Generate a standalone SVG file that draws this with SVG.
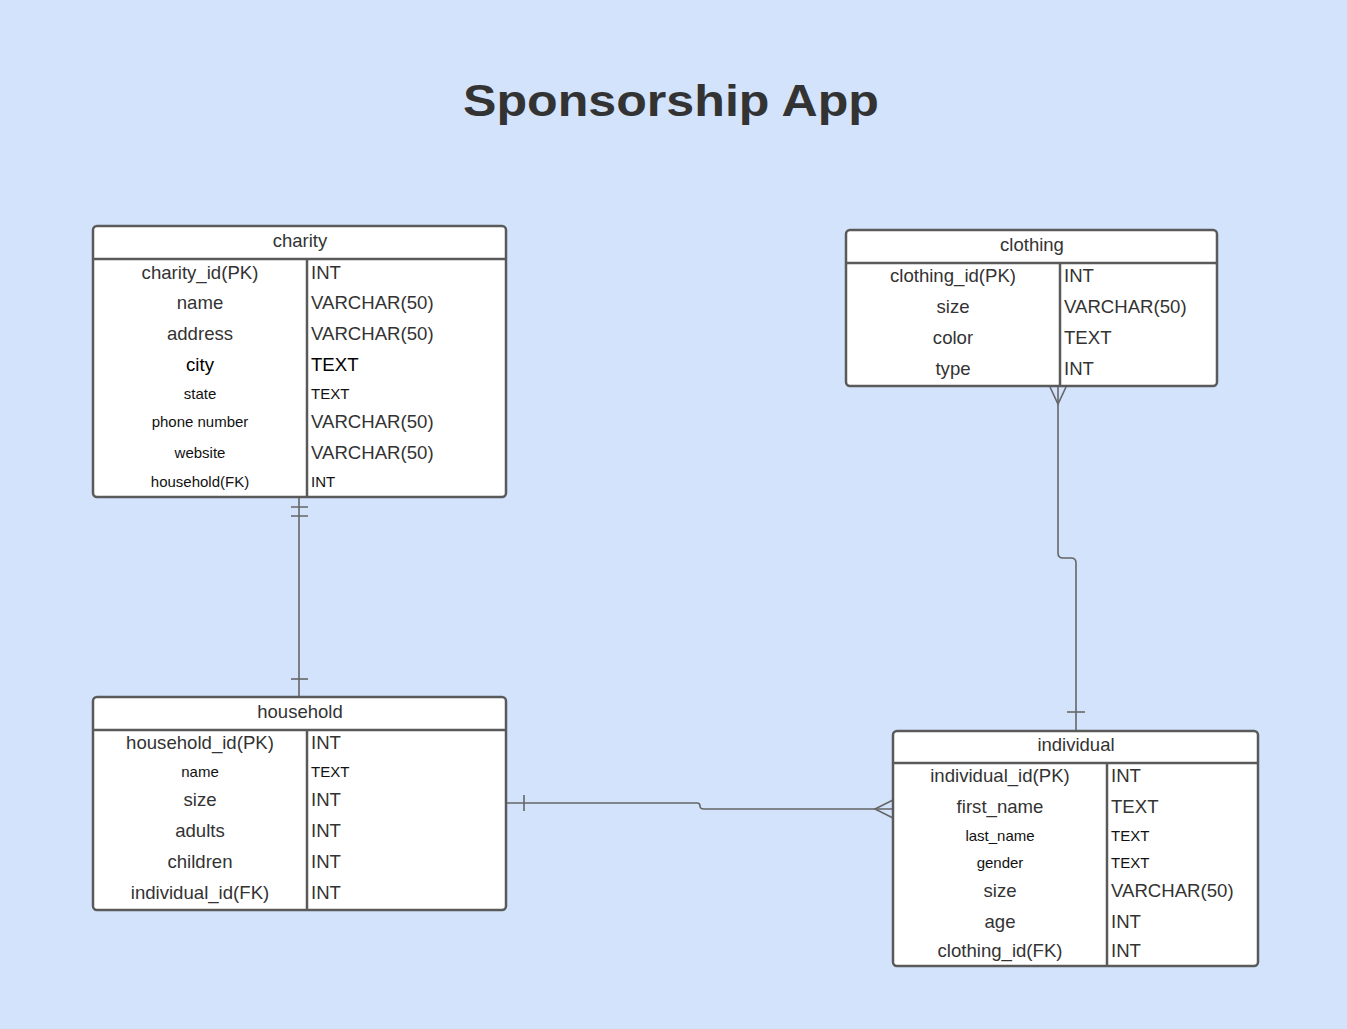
<svg xmlns="http://www.w3.org/2000/svg" width="1347" height="1029" viewBox="0 0 1347 1029">
<style>
  .bg { fill: #d3e3fc; }
  .box { fill: #ffffff; stroke: #5a5a5a; stroke-width: 2.5; }
  .div { stroke: #5a5a5a; stroke-width: 2.5; fill: none; }
  .hdr { font-family: "Liberation Sans", Arial, sans-serif; font-size: 18.5px; fill: #333333; text-anchor: middle; }
  .k { font-family: "Liberation Sans", Arial, sans-serif; font-size: 18.6px; fill: #333333; text-anchor: middle; }
  .v { font-family: "Liberation Sans", Arial, sans-serif; font-size: 18.6px; fill: #333333; }
  .ks { font-family: "Liberation Sans", Arial, sans-serif; font-size: 15px; fill: #111111; text-anchor: middle; }
  .vs { font-family: "Liberation Sans", Arial, sans-serif; font-size: 15px; fill: #111111; }
  .blk { fill: #000000; }
  .conn { stroke: #666666; stroke-width: 1.6; fill: none; }
  .title { font-family: "Liberation Sans", Arial, sans-serif; font-size: 44px; font-weight: bold; fill: #333333; text-anchor: middle; }
</style>
<rect class="bg" x="0" y="0" width="1347" height="1029"/>
<text class="title" x="671" y="116" textLength="416" lengthAdjust="spacingAndGlyphs">Sponsorship App</text>

<g id="connectors">
  <!-- charity - household -->
  <path class="conn" d="M299 497 V697"/>
  <path class="conn" d="M291 507 H308 M291 516 H308"/>
  <path class="conn" d="M291 679 H308"/>
  <!-- clothing - individual -->
  <path class="conn" d="M1058 387 V553 Q1058 558 1063 558 H1071 Q1076 558 1076 563 V731"/>
  <path class="conn" d="M1050 387 L1058 404 L1066 387"/>
  <path class="conn" d="M1067 712 H1085"/>
  <!-- household - individual -->
  <path class="conn" d="M507 803 H697 Q700 803 700 806 Q700 809 704 809 H893"/>
  <path class="conn" d="M524 795 V811"/>
  <path class="conn" d="M893 800 L875 809 L893 818"/>
</g>

<g id="charity">
  <rect class="box" x="93" y="226" width="413" height="271" rx="4"/>
  <path class="div" d="M93 259 H506 M307 259 V497"/>
  <text class="hdr" x="300" y="247">charity</text>
  <text class="k" x="200" y="279">charity_id(PK)</text><text class="v" x="311" y="279">INT</text>
  <text class="k" x="200" y="309">name</text><text class="v" x="311" y="309">VARCHAR(50)</text>
  <text class="k" x="200" y="340">address</text><text class="v" x="311" y="340">VARCHAR(50)</text>
  <text class="k blk" x="200" y="371">city</text><text class="v blk" x="311" y="371">TEXT</text>
  <text class="ks" x="200" y="399">state</text><text class="vs" x="311" y="399">TEXT</text>
  <text class="ks" x="200" y="427">phone number</text><text class="v" x="311" y="428">VARCHAR(50)</text>
  <text class="ks" x="200" y="458">website</text><text class="v" x="311" y="459">VARCHAR(50)</text>
  <text class="ks" x="200" y="487">household(FK)</text><text class="vs" x="311" y="487">INT</text>
</g>

<g id="clothing">
  <rect class="box" x="846" y="230" width="371" height="156" rx="4"/>
  <path class="div" d="M846 263 H1217 M1060 263 V386"/>
  <text class="hdr" x="1032" y="251">clothing</text>
  <text class="k" x="953" y="282">clothing_id(PK)</text><text class="v" x="1064" y="282">INT</text>
  <text class="k" x="953" y="313">size</text><text class="v" x="1064" y="313">VARCHAR(50)</text>
  <text class="k" x="953" y="344">color</text><text class="v" x="1064" y="344">TEXT</text>
  <text class="k" x="953" y="375">type</text><text class="v" x="1064" y="375">INT</text>
</g>

<g id="household">
  <rect class="box" x="93" y="697" width="413" height="213" rx="4"/>
  <path class="div" d="M93 730 H506 M307 730 V910"/>
  <text class="hdr" x="300" y="718">household</text>
  <text class="k" x="200" y="749">household_id(PK)</text><text class="v" x="311" y="749">INT</text>
  <text class="ks" x="200" y="777">name</text><text class="vs" x="311" y="777">TEXT</text>
  <text class="k" x="200" y="806">size</text><text class="v" x="311" y="806">INT</text>
  <text class="k" x="200" y="837">adults</text><text class="v" x="311" y="837">INT</text>
  <text class="k" x="200" y="868">children</text><text class="v" x="311" y="868">INT</text>
  <text class="k" x="200" y="899">individual_id(FK)</text><text class="v" x="311" y="899">INT</text>
</g>

<g id="individual">
  <rect class="box" x="893" y="731" width="365" height="235" rx="4"/>
  <path class="div" d="M893 763 H1258 M1107 763 V966"/>
  <text class="hdr" x="1076" y="751">individual</text>
  <text class="k" x="1000" y="782">individual_id(PK)</text><text class="v" x="1111" y="782">INT</text>
  <text class="k" x="1000" y="813">first_name</text><text class="v" x="1111" y="813">TEXT</text>
  <text class="ks" x="1000" y="841">last_name</text><text class="vs" x="1111" y="841">TEXT</text>
  <text class="ks" x="1000" y="868">gender</text><text class="vs" x="1111" y="868">TEXT</text>
  <text class="k" x="1000" y="897">size</text><text class="v" x="1111" y="897">VARCHAR(50)</text>
  <text class="k" x="1000" y="928">age</text><text class="v" x="1111" y="928">INT</text>
  <text class="k" x="1000" y="957">clothing_id(FK)</text><text class="v" x="1111" y="957">INT</text>
</g>
</svg>
